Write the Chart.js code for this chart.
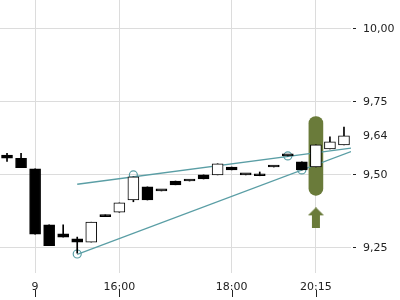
<!DOCTYPE html>
<html>
<head>
<meta charset="utf-8">
<script src="https://cdn.jsdelivr.net/npm/chart.js@4.4.0/dist/chart.umd.min.js"></script>
<style>
  html, body { margin: 0; padding: 0; background: #fff; overflow: hidden; }
  #wrap { width: 400px; height: 300px; }
  canvas { display: block; }
</style>
</head>
<body>
<div id="wrap"><canvas id="chart" width="400" height="300"></canvas></div>
<script>
// 25 intraday candles
const opens  = [9.568, 9.557, 9.521, 9.329, 9.298, 9.281, 9.270, 9.363, 9.372, 9.414, 9.459, 9.445, 9.479,
                9.479, 9.500, 9.500, 9.527, 9.500, 9.503, 9.527, 9.565, 9.545, 9.527, 9.589, 9.603];
const highs  = [9.574, 9.574, 9.521, 9.329, 9.329, 9.287, 9.338, 9.363, 9.404, 9.493, 9.459, 9.445, 9.479,
                9.479, 9.500, 9.538, 9.527, 9.500, 9.510, 9.527, 9.565, 9.545, 9.603, 9.630, 9.664];
const lows   = [9.546, 9.525, 9.297, 9.258, 9.287, 9.232, 9.270, 9.357, 9.372, 9.408, 9.414, 9.445, 9.466,
                9.479, 9.486, 9.500, 9.517, 9.500, 9.497, 9.527, 9.565, 9.517, 9.527, 9.589, 9.603];
const closes = [9.557, 9.525, 9.297, 9.258, 9.287, 9.270, 9.338, 9.357, 9.404, 9.493, 9.414, 9.445, 9.466,
                9.479, 9.486, 9.538, 9.517, 9.500, 9.497, 9.527, 9.565, 9.517, 9.603, 9.613, 9.634];

const tickIdx    = [2, 8, 16, 22];
const tickLabels = ['9', '16:00', '18:00', '20:15'];
const priceTicks = [9.25, 9.5, 9.75, 10];
const lastQuote  = 9.64;

const upperTrend  = [{x: 5, y: 9.468}, {x: 24.5, y: 9.592}];
const lowerTrend  = [{x: 5, y: 9.228}, {x: 24.5, y: 9.580}];
const touchPoints = [{x: 5, y: 9.229}, {x: 9, y: 9.500}, {x: 20, y: 9.565}, {x: 21, y: 9.517}];

const signalIdx   = 22;
const signalRange = [9.43, 9.70];
const arrowLevel  = 9.353;

const green = '#6a7b3a';
const teal = '#5a9ea5';
const lastClose = closes[closes.length - 1];
const fmt = v => v.toFixed(2).replace('.', ',');

// up arrow used as point image
const arrow = document.createElement('canvas');
arrow.width = 16;
arrow.height = 21;
const a = arrow.getContext('2d');
a.fillStyle = green;
a.beginPath();
a.moveTo(8, 0); a.lineTo(16, 8); a.lineTo(12, 8); a.lineTo(12, 21);
a.lineTo(4, 21); a.lineTo(4, 8); a.lineTo(0, 8);
a.closePath();
a.fill();

const wicks = lows.map((l, i) => ({x: i, y: [l, highs[i]]}));
const bodies = opens.map((o, i) => ({x: i, y: [Math.min(o, closes[i]), Math.max(o, closes[i])]}));
const bodyColors = opens.map((o, i) => closes[i] > o ? '#ffffff' : '#000000');

const noPadding = ax => {
    ax.paddingTop = 0; ax.paddingBottom = 0;
    ax.paddingLeft = 0; ax.paddingRight = 0;
};

// small dark dashes under the time labels
const timeTickDashes = {
    id: 'timeTickDashes',
    afterDraw(chart) {
        const xs = chart.scales.x;
        const ctx = chart.ctx;
        ctx.save();
        ctx.fillStyle = '#222';
        tickIdx.forEach(v => {
            const px = Math.round(xs.getPixelForValue(v));
            ctx.fillRect(px, chart.height - 10, 1, 7);
        });
        ctx.restore();
    }
};

Chart.defaults.font.family = 'DejaVu Sans';
Chart.defaults.font.size = 11;
Chart.defaults.color = '#222';

new Chart(document.getElementById('chart'), {
    type: 'bar',
    data: {
        datasets: [
            {
                type: 'bar', order: 6, grouped: false,
                data: [{x: signalIdx, y: signalRange}],
                backgroundColor: green, barThickness: 14,
                borderRadius: 7, borderSkipped: false
            },
            {
                type: 'line', order: 5, data: upperTrend,
                borderColor: teal, borderWidth: 1.3, pointRadius: 0
            },
            {
                type: 'line', order: 5, data: lowerTrend,
                borderColor: teal, borderWidth: 1.3, pointRadius: 0
            },
            {
                type: 'scatter', order: 4, data: touchPoints,
                pointRadius: 4, pointBorderWidth: 1.2,
                pointBorderColor: teal, pointBackgroundColor: 'rgba(0,0,0,0)'
            },
            {
                type: 'bar', order: 3, grouped: false, data: wicks,
                backgroundColor: '#000', barThickness: 1
            },
            {
                type: 'bar', order: 2, grouped: false, data: bodies,
                backgroundColor: bodyColors, borderColor: '#000', borderWidth: 1,
                borderSkipped: false, barThickness: 11, minBarLength: 2
            },
            {
                type: 'scatter', order: 1, data: [{x: signalIdx, y: arrowLevel}],
                pointStyle: arrow
            }
        ]
    },
    options: {
        responsive: false,
        animation: false,
        events: [],
        layout: { padding: 0, autoPadding: false },
        plugins: { legend: { display: false }, tooltip: { enabled: false } },
        scales: {
            x: {
                type: 'linear', min: -0.5, max: 24.5, offset: false,
                afterBuildTicks: ax => { ax.ticks = tickIdx.map(v => ({value: v})); },
                afterFit: ax => { ax.height = 27; noPadding(ax); },
                border: { display: false },
                grid: { offset: false, color: '#dcdcdc', drawTicks: false },
                ticks: {
                    padding: 8, maxRotation: 0, autoSkip: false,
                    callback: v => tickLabels[tickIdx.indexOf(v)]
                }
            },
            y: {
                position: 'right', min: 9.164, max: 10.099,
                afterBuildTicks: ax => {
                    ax.ticks = priceTicks.concat([lastClose]).sort((p, q) => p - q).map(v => ({value: v}));
                },
                afterFit: ax => { ax.width = 49; noPadding(ax); },
                border: { display: false },
                grid: {
                    color: c => c.tick && c.tick.value === lastClose ? 'rgba(0,0,0,0)' : '#dcdcdc',
                    tickColor: c => c.tick && c.tick.value === lastClose ? 'rgba(0,0,0,0)' : '#222',
                    tickLength: 5, tickBorderDash: [0, 2, 3, 0]
                },
                ticks: {
                    padding: 7,
                    callback: v => v === lastClose ? fmt(lastQuote) : fmt(v)
                }
            }
        }
    },
    plugins: [timeTickDashes]
});
</script>
</body>
</html>
